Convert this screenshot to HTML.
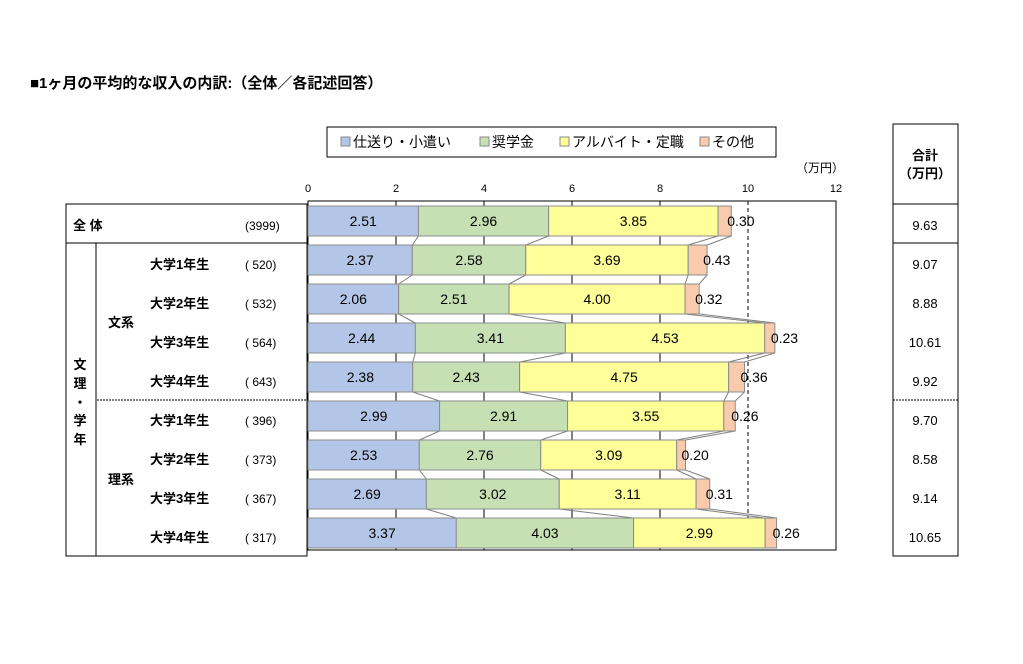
<!DOCTYPE html>
<html><head><meta charset="utf-8"><style>
body{margin:0;background:#fff;width:1023px;height:659px;overflow:hidden}
svg text{font-family:"Liberation Sans","Noto Sans CJK JP",sans-serif;fill:#000}
</style></head><body>
<svg id="c" width="1023" height="659" xmlns="http://www.w3.org/2000/svg">
<text x="30" y="88" font-size="15" font-weight="bold">■1ヶ月の平均的な収入の内訳:（全体／各記述回答）</text>
<g>
<rect x="327" y="127" width="449" height="30" fill="#fff" stroke="#000"/>
<rect x="341" y="137" width="9" height="9" fill="#b4c6e7" stroke="#888"/>
<text x="353" y="147" font-size="14">仕送り・小遣い</text>
<rect x="480" y="137" width="9" height="9" fill="#c6e0b4" stroke="#888"/>
<text x="492" y="147" font-size="14">奨学金</text>
<rect x="560" y="137" width="9" height="9" fill="#ffff99" stroke="#888"/>
<text x="572" y="147" font-size="14">アルバイト・定職</text>
<rect x="700" y="137" width="9" height="9" fill="#f8cbad" stroke="#888"/>
<text x="712" y="147" font-size="14">その他</text>
</g>
<text x="820" y="172" font-size="12" text-anchor="middle">（万円）</text>
<g>
<rect x="66" y="204" width="241" height="352" fill="none" stroke="#000"/>
<line x1="66" y1="243" x2="307" y2="243" stroke="#000"/>
<line x1="96" y1="243" x2="96" y2="556" stroke="#000"/>
<line x1="97" y1="400" x2="307" y2="400" stroke="#000" stroke-dasharray="2,1"/>
<text x="73" y="230" font-size="13" font-weight="bold">全 体</text>
<text x="245" y="230" font-size="12">(3999)</text>
<text x="108" y="327" font-size="13" font-weight="bold">文系</text>
<text x="108" y="484" font-size="13" font-weight="bold">理系</text>
<g font-size="13" font-weight="bold" text-anchor="middle">
<text x="80" y="369">文</text><text x="80" y="388">理</text><text x="80" y="407">・</text><text x="80" y="425">学</text><text x="80" y="444">年</text>
</g>
</g>
<g>
<rect x="893" y="124" width="65" height="432" fill="none" stroke="#000"/>
<line x1="893" y1="204" x2="958" y2="204" stroke="#000"/>
<line x1="893" y1="243" x2="958" y2="243" stroke="#000"/>
<line x1="893" y1="400" x2="958" y2="400" stroke="#000" stroke-dasharray="2,1"/>
<text x="925" y="160" font-size="13" font-weight="bold" text-anchor="middle">合計</text>
<text x="925" y="178" font-size="13" font-weight="bold" text-anchor="middle">（万円）</text>
</g>
<g id="plot"></g>
</svg>
<script>
const categories=["全体","大学1年生","大学2年生","大学3年生","大学4年生","大学1年生","大学2年生","大学3年生","大学4年生"];
const counts=["(3999)","( 520)","( 532)","( 564)","( 643)","( 396)","( 373)","( 367)","( 317)"];
const allowance=[2.51,2.37,2.06,2.44,2.38,2.99,2.53,2.69,3.37];
const scholarship=[2.96,2.58,2.51,3.41,2.43,2.91,2.76,3.02,4.03];
const parttime=[3.85,3.69,4.00,4.53,4.75,3.55,3.09,3.11,2.99];
const other=[0.30,0.43,0.32,0.23,0.36,0.26,0.20,0.31,0.26];
const totals=["9.63","9.07","8.88","10.61","9.92","9.70","8.58","9.14","10.65"];
const ticks=[0,2,4,6,8,10,12];
const NS="http://www.w3.org/2000/svg";
const svg=document.getElementById('c');
const g=document.getElementById('plot');
const x0=308,x1=836,xmax=12;
const X=v=>x0+v*(x1-x0)/xmax;
const Yc=i=>221+39*i;
const bh=30;
function mk(t,a,p){const e=document.createElementNS(NS,t);for(const k in a)e.setAttribute(k,a[k]);(p||g).appendChild(e);return e;}
const frame=mk('rect',{x:x0,y:201,width:x1-x0,height:349,fill:'#fff',stroke:'#000'});


ticks.forEach(t=>{
  if(t>0&&t<xmax){const l=mk('line',{x1:X(t),y1:201,x2:X(t),y2:550,stroke:'#000','stroke-width':1,'stroke-dasharray':t==10?'4,3':'none'});
  
  }
  const tx=mk('text',{x:X(t),y:192,'font-size':11,'text-anchor':'middle'});tx.textContent=t;
  
  
});
const series=[allowance,scholarship,parttime,other];
const colors=['#b4c6e7','#c6e0b4','#ffff99','#f8cbad'];
const snames=['allowance','scholarship','parttime','other'];
for(let i=0;i<categories.length-1;i++){
  let c1=0,c2=0;
  for(let s=0;s<4;s++){c1+=series[s][i];c2+=series[s][i+1];
    const l=mk('line',{x1:X(c1),y1:Yc(i)+bh/2,x2:X(c2),y2:Yc(i+1)-bh/2,stroke:'#808080','stroke-width':1});
    
    }
}
categories.forEach((c,i)=>{
  let cum=0;
  for(let s=0;s<4;s++){
    const v=series[s][i];
    const r=mk('rect',{x:X(cum),y:Yc(i)-bh/2,width:X(cum+v)-X(cum),height:bh,fill:colors[s],stroke:'#8c8c8c','stroke-width':1});
    
    
    const t=mk('text',{'font-size':14,y:Yc(i)+5});
    if(s<3){t.setAttribute('x',(X(cum)+X(cum+v))/2);t.setAttribute('text-anchor','middle');}
    else{t.setAttribute('x',X(cum+v)-4);}
    t.textContent=v.toFixed(2);
    
    
    cum+=v;
  }
  if(i>0){const l=mk('text',{x:150,y:Yc(i)+9,'font-size':13,'font-weight':'bold'},svg);l.textContent=c;
    
    
    const n=mk('text',{x:245,y:Yc(i)+9,'font-size':12},svg);n.textContent=counts[i];
    
    }
  const tt=mk('text',{x:925,y:Yc(i)+9,'font-size':13,'text-anchor':'middle'},svg);tt.textContent=totals[i];
  
  
});
</script>
</body></html>
